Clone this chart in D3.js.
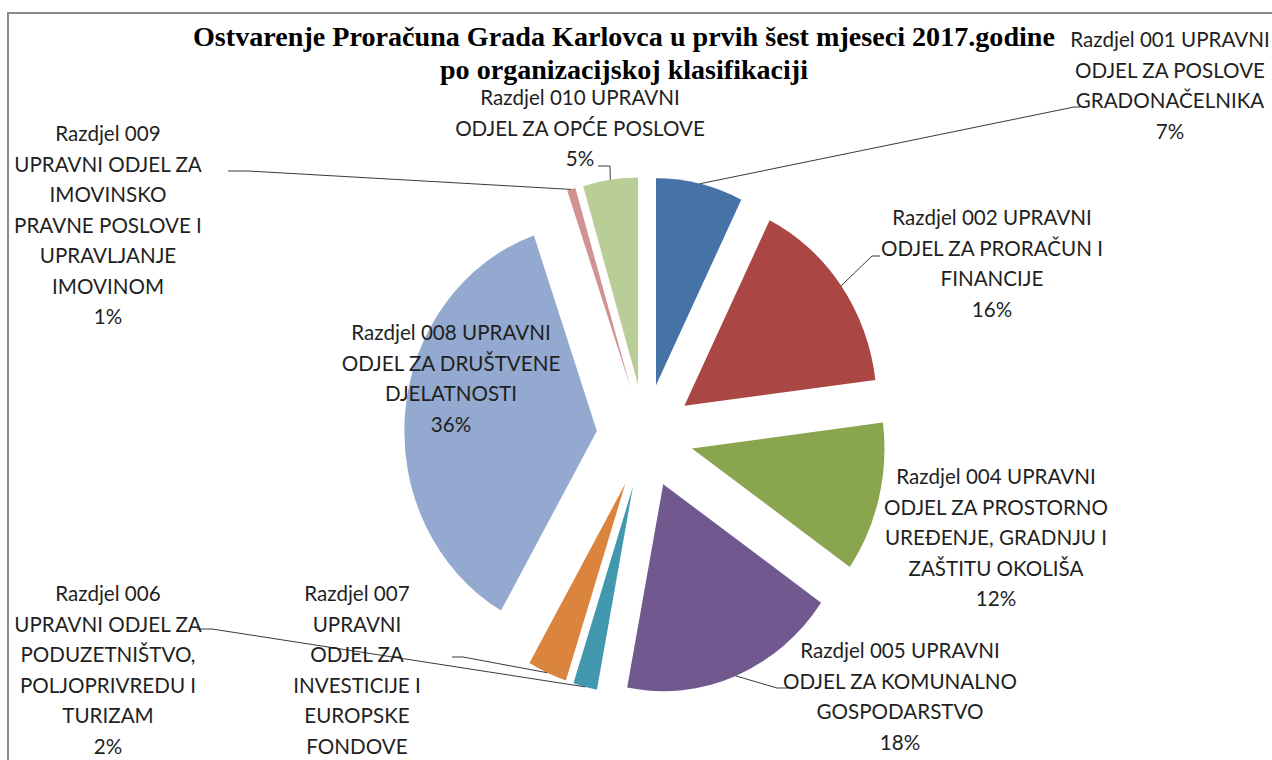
<!DOCTYPE html>
<meta charset="utf-8">
<style>
    body { margin: 0; background: #fff; }
    .lbl { font-family: Lato, "Open Sans", sans-serif; font-size: 20.6px; fill: #1f1f1f; text-anchor: middle; }
    .title { font-family: "Liberation Serif", "Times New Roman", serif; font-weight: bold; font-size: 28px; fill: #000; text-anchor: middle; }
</style>
<svg id="chart"></svg>
<script src="https://cdn.jsdelivr.net/npm/d3@7"></script>
<script>

    // data (clockwise from 12 o'clock)
    var codes = ["001", "002", "004", "005", "006", "007", "008", "009", "010"];
    var values = [7.3, 15.7, 11.7, 18.3, 2.0, 3.3, 36.4, 0.7, 4.6];
    var labelLines = [
        ["Razdjel 001 UPRAVNI", "ODJEL ZA POSLOVE", "GRADONAČELNIKA"],
        ["Razdjel 002 UPRAVNI", "ODJEL ZA PRORAČUN I", "FINANCIJE"],
        ["Razdjel 004 UPRAVNI", "ODJEL ZA PROSTORNO", "UREĐENJE, GRADNJU I", "ZAŠTITU OKOLIŠA"],
        ["Razdjel 005 UPRAVNI", "ODJEL ZA KOMUNALNO", "GOSPODARSTVO"],
        ["Razdjel 006", "UPRAVNI ODJEL ZA", "PODUZETNIŠTVO,", "POLJOPRIVREDU I", "TURIZAM"],
        ["Razdjel 007", "UPRAVNI", "ODJEL ZA", "INVESTICIJE I", "EUROPSKE", "FONDOVE"],
        ["Razdjel 008 UPRAVNI", "ODJEL ZA DRUŠTVENE", "DJELATNOSTI"],
        ["Razdjel 009", "UPRAVNI ODJEL ZA", "IMOVINSKO", "PRAVNE POSLOVE I", "UPRAVLJANJE", "IMOVINOM"],
        ["Razdjel 010 UPRAVNI", "ODJEL ZA OPĆE POSLOVE"]
    ];
    var colors = ["#4572A7", "#AA4643", "#89A54E", "#71588F", "#4198AF", "#DB843D", "#93A9CF", "#D19392", "#B9CD96"];
    var titleLines = ["Ostvarenje Proračuna Grada Karlovca u prvih šest mjeseci 2017.godine",
                      "po organizacijskoj klasifikaciji"];

    var width = 1272,
        height = 760;

    // label placement (center x, first baseline) and leader start (label side)
    // 007's percentage falls below the visible area in the original, so it is left off
    var layout = [
        {x: 1170, y: 47,  pct: true,  lead: [[1080, 107], [1074, 107]]},
        {x: 992,  y: 225, pct: true,  lead: [[880, 256], [872, 256]]},
        {x: 996,  y: 484, pct: true,  lead: null},
        {x: 900,  y: 658, pct: true,  lead: [[788, 688], [777, 688]]},
        {x: 108,  y: 601, pct: true,  lead: [[197, 629], [212, 629]]},
        {x: 357,  y: 601, pct: false, lead: [[452, 657], [463, 657]]},
        {x: 451,  y: 340, pct: true,  lead: null},
        {x: 108,  y: 141, pct: true,  lead: [[228, 171], [248, 171]]},
        {x: 580,  y: 105, pct: true,  lead: [[598, 166], [610, 166]]}
    ];
    var lineH = 30.5;

    var cx = 645, cy = 436,
        radius = 207,
        explode = 52,
        sx = 0.93; // the original chart is a little squeezed horizontally

    var svg = d3.select("#chart")
        .attr("width", width)
        .attr("height", height);

    svg.append("rect")
        .attr("width", width)
        .attr("height", height)
        .attr("fill", "#fff");

    // chart area border (top + left)
    svg.append("path")
        .attr("d", "M8," + height + "V13H" + width)
        .attr("fill", "none")
        .attr("stroke", "#8a8a8a")
        .attr("stroke-width", 2);

    var data = codes.map(function(c, i) {
        return {code: c, value: values[i], lines: labelLines[i], pos: layout[i]};
    });
    var total = d3.sum(values);
    var pct = d3.format(".0%");

    var pie = d3.pie()
        .sort(null)
        .value(function(d) { return d.value; });

    var arc = d3.arc()
        .innerRadius(0)
        .outerRadius(radius);

    var color = d3.scaleOrdinal()
        .domain(codes)
        .range(colors);

    var arcs = pie(data);
    arcs.forEach(function(a) { a.mid = (a.startAngle + a.endAngle) / 2; });

    var g = svg.append("g")
        .attr("transform", "translate(" + cx + "," + cy + ") scale(" + sx + ",1)");

    g.selectAll("path")
        .data(arcs)
        .enter().append("path")
        .attr("transform", function(a) {
            return "translate(" + explode * Math.sin(a.mid) + "," + (-explode * Math.cos(a.mid)) + ")";
        })
        .attr("d", arc)
        .attr("fill", function(a) { return color(a.data.code); });

    // leader lines to the outer edge of each exploded slice
    var line = d3.line();
    svg.selectAll(".leader")
        .data(arcs.filter(function(a) { return a.data.pos.lead; }))
        .enter().append("path")
        .attr("class", "leader")
        .attr("fill", "none")
        .attr("stroke", "#3a3a3a")
        .attr("stroke-width", 1)
        .attr("d", function(a) {
            var r = explode + radius;
            var end = [cx + sx * r * Math.sin(a.mid), cy - r * Math.cos(a.mid)];
            return line(a.data.pos.lead.concat([end]));
        });

    // data labels
    var lbl = svg.selectAll(".lbl")
        .data(arcs)
        .enter().append("text")
        .attr("class", "lbl")
        .attr("x", function(a) { return a.data.pos.x; })
        .attr("y", function(a) { return a.data.pos.y; });

    lbl.selectAll("tspan")
        .data(function(a) {
            var lines = a.data.pos.pct ? a.data.lines.concat([pct(a.data.value / total)]) : a.data.lines;
            return lines.map(function(t) { return {t: t, x: a.data.pos.x}; });
        })
        .enter().append("tspan")
        .attr("x", function(d) { return d.x; })
        .attr("dy", function(d, i) { return i ? lineH : 0; })
        .text(function(d) { return d.t; });

    // title
    var title = svg.append("text")
        .attr("class", "title");
    title.selectAll("tspan")
        .data(titleLines)
        .enter().append("tspan")
        .attr("x", 624)
        .attr("y", function(d, i) { return 46 + i * 33; })
        .attr("textLength", function(d, i) { return i ? 368 : 862; })
        .attr("lengthAdjust", "spacingAndGlyphs")
        .text(function(d) { return d; });

</script>
